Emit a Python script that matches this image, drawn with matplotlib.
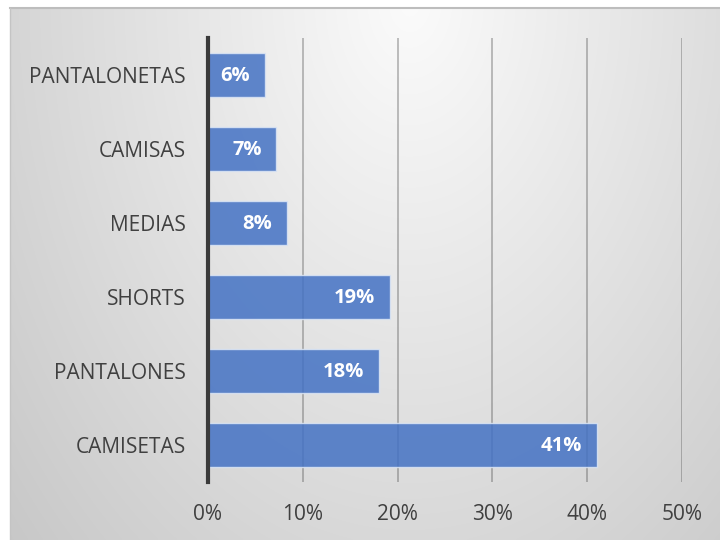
import numpy as np
import matplotlib
matplotlib.use("Agg")
import matplotlib.pyplot as plt
from matplotlib.ticker import PercentFormatter

categories = ["CAMISETAS", "PANTALONES", "SHORTS", "MEDIAS", "CAMISAS", "PANTALONETAS"]
shares = [0.410, 0.180, 0.192, 0.083, 0.072, 0.060]
x_ticks = [0.0, 0.1, 0.2, 0.3, 0.4, 0.5]

FONT = "Open Sans"
W, H = 720, 540
fig = plt.figure(figsize=(W / 100, H / 100), dpi=100)
fig.patch.set_facecolor("white")

# radial grey background of the chart area
bg_left, bg_top = 10, 8
bg = fig.add_axes([bg_left / W, 0, 1 - bg_left / W, 1 - bg_top / H])
nx, ny = 356, 266
xs = np.linspace(bg_left, W, nx)
ys = np.linspace(bg_top, H, ny)
X, Y = np.meshgrid(xs, ys)
r = np.sqrt(((X - 410) / 380) ** 2 + ((Y - 0) / 560) ** 2)
t = np.clip(r / 1.45, 0, 1)
val = (251 - 52 * t) / 255
img = np.dstack([val, val, val])
bg.imshow(img, aspect="auto", extent=[0, 1, 0, 1], origin="upper", interpolation="bilinear")
bg.set_xlim(0, 1)
bg.set_ylim(0, 1)
bg.axis("off")
fig.add_artist(plt.Line2D([bg_left / W, 1], [1 - bg_top / H, 1 - bg_top / H],
                          transform=fig.transFigure, color="#bdbdbd", lw=1.5))
fig.add_artist(plt.Line2D([bg_left / W, bg_left / W], [0, 1 - bg_top / H],
                          transform=fig.transFigure, color="#c4c4c4", lw=1.0))

left, right = 208 / W, 682 / W
bottom, top = 1 - 482 / H, 1 - 38 / H
ax = fig.add_axes([left, bottom, right - left, top - bottom])
ax.patch.set_alpha(0)

ypos = np.arange(len(categories))
ax.barh(ypos, shares, height=0.6, color="#4472C4", alpha=0.85,
        edgecolor="#dce6f5", linewidth=1.0, zorder=3)

ax.set_xlim(0, 0.5)
ax.set_ylim(-0.5, len(categories) - 0.5)
ax.set_xticks(x_ticks)
ax.xaxis.set_major_formatter(PercentFormatter(1.0, decimals=0))
ax.set_yticks(ypos)
ax.set_yticklabels(categories)

for x in x_ticks[1:]:
    ax.axvline(x, color="#404040", alpha=0.35, lw=1.3, zorder=1)

for s in ["top", "right", "bottom"]:
    ax.spines[s].set_visible(False)
ax.spines["left"].set_color("#3a3a3a")
ax.spines["left"].set_linewidth(3)
ax.spines["left"].set_zorder(5)

ax.tick_params(axis="both", length=0, labelcolor="#404040")
ax.tick_params(axis="x", pad=16)
ax.tick_params(axis="y", pad=16)
for lbl in ax.get_xticklabels() + ax.get_yticklabels():
    lbl.set_fontfamily(FONT)
    lbl.set_fontsize(15)

for yv, v in zip(ypos, shares):
    ax.annotate(f"{v * 100:.0f}%", xy=(v, yv), xytext=(-10.5, -0.5), textcoords="offset points",
                ha="right", va="center", color="white", fontweight="bold",
                fontfamily=FONT, fontsize=14.5, zorder=6)

fig.savefig("out.png", dpi=100)
